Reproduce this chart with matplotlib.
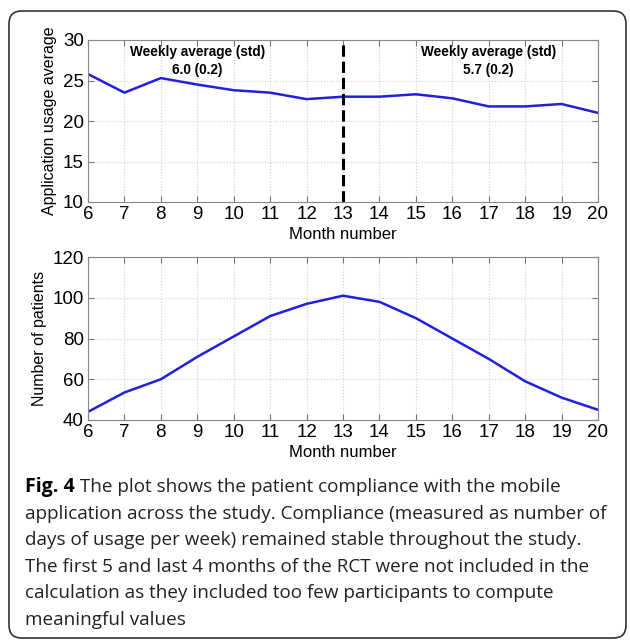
import matplotlib
matplotlib.use("Agg")
import matplotlib.pyplot as plt
from matplotlib.patches import FancyBboxPatch

months = [6, 7, 8, 9, 10, 11, 12, 13, 14, 15, 16, 17, 18, 19, 20]
usage_avg = [25.8, 23.5, 25.3, 24.5, 23.8, 23.5, 22.7, 23.0, 23.0, 23.3, 22.8, 21.8, 21.8, 22.1, 21.0]
n_patients = [44, 53.5, 60, 71, 81, 91, 97, 101, 98, 90, 80, 70, 59, 51, 45]
split_month = 13
note_left = "Weekly average (std)\n6.0 (0.2)"
note_right = "Weekly average (std)\n5.7 (0.2)"
caption_bold = "Fig. 4"
caption_lines = [
    " The plot shows the patient compliance with the mobile",
    "application across the study. Compliance (measured as number of",
    "days of usage per week) remained stable throughout the study.",
    "The first 5 and last 4 months of the RCT were not included in the",
    "calculation as they included too few participants to compute",
    "meaningful values",
]

plt.rcParams["font.family"] = ["Liberation Sans", "DejaVu Sans"]

W, H = 630, 640
fig = plt.figure(figsize=(W / 100, H / 100), dpi=100)

# rounded frame round the whole figure
frame = FancyBboxPatch((9 / W, 2 / H), 617 / W, 627 / H,
                       boxstyle="round,pad=0,rounding_size=0.02",
                       transform=fig.transFigure, fill=False,
                       edgecolor="#333333", linewidth=1.2)
fig.patches.append(frame)


def style(ax):
    ax.set_xlim(6, 20)
    ax.set_xticks(months)
    ax.grid(True, color="#d0d0d0", linestyle=":", linewidth=0.8)
    ax.tick_params(direction="in", top=True, right=True, length=4,
                   color="#777777", labelsize=13.5, pad=3)
    for s in ax.spines.values():
        s.set_color("#888888")
    ax.set_xlabel("Month number", fontsize=12, labelpad=3)


ax1 = fig.add_axes([88 / W, 1 - 202 / H, 510 / W, 162 / H])
ax1.plot(months, usage_avg, color="#2020e0", linewidth=1.8)
ax1.axvline(split_month, color="black", linestyle="--", linewidth=2.2)
ax1.set_ylim(10, 30)
ax1.set_yticks([10, 15, 20, 25, 30])
style(ax1)
ax1.set_ylabel("Application usage average", fontsize=11.5)
ax1.text(9.0, 29.4, note_left, ha="center", va="top", fontsize=9.8,
         fontweight="bold", linespacing=1.35)
ax1.text(17.0, 29.4, note_right, ha="center", va="top", fontsize=9.8,
         fontweight="bold", linespacing=1.35)

ax2 = fig.add_axes([88 / W, 1 - 420 / H, 510 / W, 163 / H])
ax2.plot(months, n_patients, color="#2020e0", linewidth=1.8)
ax2.set_ylim(40, 120)
ax2.set_yticks([40, 60, 80, 100, 120])
style(ax2)
ax2.set_ylabel("Number of patients", fontsize=11.5)

# caption
cap_font = ["Open Sans", "DejaVu Sans"]
y0 = 1 - 487 / H
step = 26.6 / H
t = fig.text(25 / W, y0, caption_bold, fontsize=14, fontweight="bold",
             family=cap_font, va="center")
fig.canvas.draw()
bb = t.get_window_extent()
fig.text(bb.x1 / W, y0, caption_lines[0], fontsize=13.6,
         family=cap_font, va="center", color="#222222")
for i, line in enumerate(caption_lines[1:], start=1):
    fig.text(25 / W, y0 - i * step, line, fontsize=13.6,
             family=cap_font, va="center", color="#222222")

fig.savefig("out.png", dpi=100)
